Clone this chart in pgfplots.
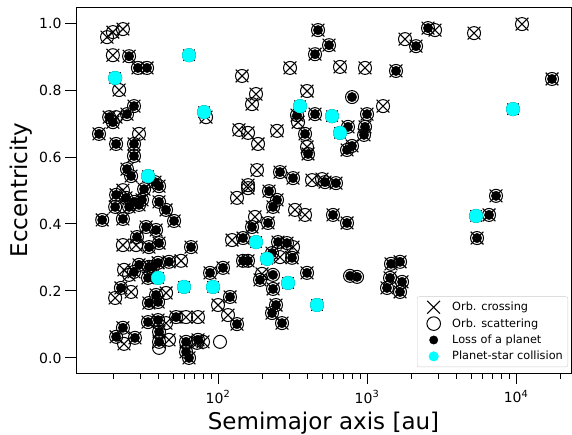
\documentclass[border=0pt]{standalone}
\usepackage{fontspec}
\setmainfont{DejaVu Sans}
\usepackage{pgfplots}
\pgfplotsset{compat=1.18}
\usepackage{pgfplotstable}
\definecolor{cyanc}{HTML}{00FFFF}
\pgfplotsset{mylegend/.style={legend image code/.code={\path[draw=none,fill=none] (0pt,-5pt) rectangle (30pt,5pt); \draw[##1] plot coordinates {(13.5pt,0pt)};}}}

% orbit crossing + orbit scattering only
\pgfplotstableread{
a e
19.7 0.973
23.0 0.982
18.0 0.958
19.7 0.904
21.7 0.800
83.1 0.719
20.7 0.719
29.5 0.669
23.0 0.501
23.0 0.337
28.2 0.337
23.4 0.263
56.5 0.290
25.3 0.248
20.4 0.179
26.1 0.197
44.8 0.194
61.0 0.122
73.4 0.122
44.8 0.104
23.4 0.042
46.9 0.054
72.3 0.045
79.3 0.048
100 0.158
116.7 0.128
304.3 0.866
144.9 0.842
179.9 0.788
169.1 0.758
395.8 0.797
344.4 0.704
138.4 0.681
159.0 0.672
248.9 0.678
185.6 0.639
395.8 0.630
182.7 0.561
427.3 0.531
498.9 0.534
159.0 0.516
134.1 0.478
159.0 0.507
328.8 0.442
383.7 0.427
177.1 0.421
124.2 0.352
318.8 0.331
260.7 0.301
197.4 0.251
658.8 0.869
969.6 0.866
1799 0.952
2860 0.979
5227 0.970
10970 0.997
1281 0.752
}\tabC

% crossing + scattering + loss of a planet
\pgfplotstableread{
a e
25.3 0.901
29.0 0.866
33.4 0.866
27.3 0.752
24.5 0.728
18.6 0.719
19.7 0.704
15.9 0.669
20.7 0.639
27.3 0.639
27.3 0.603
24.5 0.564
26.1 0.543
37.8 0.525
40.2 0.513
31.9 0.504
20.7 0.487
24.1 0.478
27.3 0.466
29.5 0.457
40.2 0.466
44.8 0.442
20.4 0.451
25.3 0.451
30.9 0.472
16.7 0.412
23.0 0.415
32.9 0.391
38.4 0.382
50.7 0.409
28.6 0.361
34.4 0.331
40.2 0.343
65.9 0.331
29.5 0.278
34.4 0.272
39.6 0.284
46.9 0.287
36.6 0.272
27.3 0.257
33.9 0.239
22.3 0.209
38.4 0.188
34.4 0.164
39.6 0.167
52.3 0.122
33.9 0.107
39.6 0.113
23.0 0.090
20.7 0.063
27.7 0.060
40.2 0.078
40.2 0.048
61.0 0.048
61.0 0.018
63.9 0.000
73.4 0.054
88.4 0.254
108.0 0.269
120.4 0.182
134.1 0.101
469.0 0.979
555.9 0.934
447.7 0.907
339.0 0.725
447.7 0.728
383.7 0.669
401.8 0.609
260.7 0.555
318.8 0.537
522.5 0.525
619.3 0.522
220.0 0.498
248.9 0.472
234.0 0.451
169.1 0.391
216.6 0.403
147.2 0.358
252.8 0.346
290.4 0.343
159.0 0.290
147.2 0.290
230.4 0.313
313.9 0.299
191.4 0.233
234.0 0.206
395.8 0.254
245.1 0.158
230.4 0.134
268.9 0.104
591.3 0.427
734.1 0.403
1449 0.281
1666 0.287
1427 0.239
1718 0.227
1362 0.209
1666 0.197
1565 0.857
2133 0.931
2567 0.985
17440 0.833
1000 0.728
745.5 0.690
969.6 0.690
954.8 0.666
734.1 0.621
793.3 0.633
7340 0.484
6590 0.427
5474 0.358
}\tabB

% scattering + loss of a planet
\pgfplotstableread{
a e
234.0 0.248
793.3 0.779
769.0 0.245
856.9 0.242
}\tabP

% scattering only
\pgfplotstableread{
a e
40.2 0.030
103.1 0.048
}\tabS

% planet-star collision
\pgfplotstableread{
a e
63.9 0.904
20.4 0.836
80.5 0.734
33.9 0.543
39.6 0.239
59.1 0.212
92.6 0.212
355.0 0.752
582.3 0.722
179.9 0.346
213.3 0.296
295.0 0.224
461.7 0.158
658.8 0.672
9548 0.743
5389 0.424
}\tabY

\begin{document}
\begin{tikzpicture}
\useasboundingbox (-76pt,-62pt) rectangle (496pt,373pt);
\begin{axis}[
  at={(0pt,0pt)}, anchor=south west,
  scale only axis, width=495pt, height=366pt,
  xmode=log, xmin=11.14, xmax=23390, ymin=-0.045, ymax=1.048,
  axis line style={line width=0.8pt},
  tick align=outside,
  xtick={100,1000,10000},
  xticklabels={10\textsuperscript{2},10\textsuperscript{3},10\textsuperscript{4}},
  minor xtick={20,30,40,50,60,70,80,90,200,300,400,500,600,700,800,900,2000,3000,4000,5000,6000,7000,8000,9000,20000},
  ytick={0,0.2,0.4,0.6,0.8,1.0},
  yticklabels={0.0,0.2,0.4,0.6,0.8,1.0},
  xtick pos=bottom, ytick pos=left,
  major tick length=11pt, minor tick length=6pt,
  every tick/.style={black, line width=1pt},
  tick label style={font=\fontsize{14}{16}\selectfont},
  xticklabel style={yshift=-3pt},
  xlabel={Semimajor axis [au]}, ylabel={Eccentricity},
  label style={font=\fontsize{23}{27}\selectfont},
  xlabel style={at={(axis description cs:0.5,-0.1557)}, anchor=base},
  ylabel style={at={(axis description cs:-0.097,0.5)}, anchor=base},
  legend style={at={(0.994,0.016)}, anchor=south east, draw=black!20, rounded corners=2pt,
    fill=white, font=\fontsize{11.3}{13}\selectfont, row sep=2.3pt, inner xsep=3pt, inner ysep=3.5pt},
  legend cell align=left,
]
\addlegendimage{only marks, mark=x, mark size=9pt, black, mark options={line width=1.1pt}, mylegend}
\addlegendentry{Orb. crossing}
\addlegendimage{only marks, mark=o, mark size=6.8pt, black, mark options={line width=1pt}, mylegend}
\addlegendentry{Orb. scattering}
\addlegendimage{only marks, mark=*, mark size=4.2pt, black, mylegend}
\addlegendentry{Loss of a planet}
\addlegendimage{only marks, mark=*, mark size=4.8pt, cyanc, mark options={draw=cyanc}, mylegend}
\addlegendentry{Planet-star collision}

% crosses
\addplot[forget plot, only marks, mark=x, mark size=9pt, black, mark options={line width=1.1pt}] table[x=a,y=e] {\tabC};
\addplot[forget plot, only marks, mark=x, mark size=9pt, black, mark options={line width=1.1pt}] table[x=a,y=e] {\tabB};
\addplot[forget plot, only marks, mark=x, mark size=8pt, black, mark options={line width=1pt}] table[x=a,y=e] {\tabY};
% circles
\addplot[forget plot, only marks, mark=o, mark size=6.5pt, black, mark options={line width=1pt}] table[x=a,y=e] {\tabC};
\addplot[forget plot, only marks, mark=o, mark size=6.5pt, black, mark options={line width=1pt}] table[x=a,y=e] {\tabB};
\addplot[forget plot, only marks, mark=o, mark size=6.5pt, black, mark options={line width=1pt}] table[x=a,y=e] {\tabP};
\addplot[forget plot, only marks, mark=o, mark size=6.5pt, black, mark options={line width=1pt}] table[x=a,y=e] {\tabS};
\addplot[forget plot, only marks, mark=o, mark size=6.5pt, black, mark options={line width=1pt}] table[x=a,y=e] {\tabY};
% loss of a planet
\addplot[forget plot, only marks, mark=*, mark size=4.7pt, black] table[x=a,y=e] {\tabB};
\addplot[forget plot, only marks, mark=*, mark size=4.7pt, black] table[x=a,y=e] {\tabP};
% collision
\addplot[forget plot, only marks, mark=*, mark size=6.8pt, cyanc, mark options={draw=cyanc}] table[x=a,y=e] {\tabY};
\end{axis}
\end{tikzpicture}
\end{document}
